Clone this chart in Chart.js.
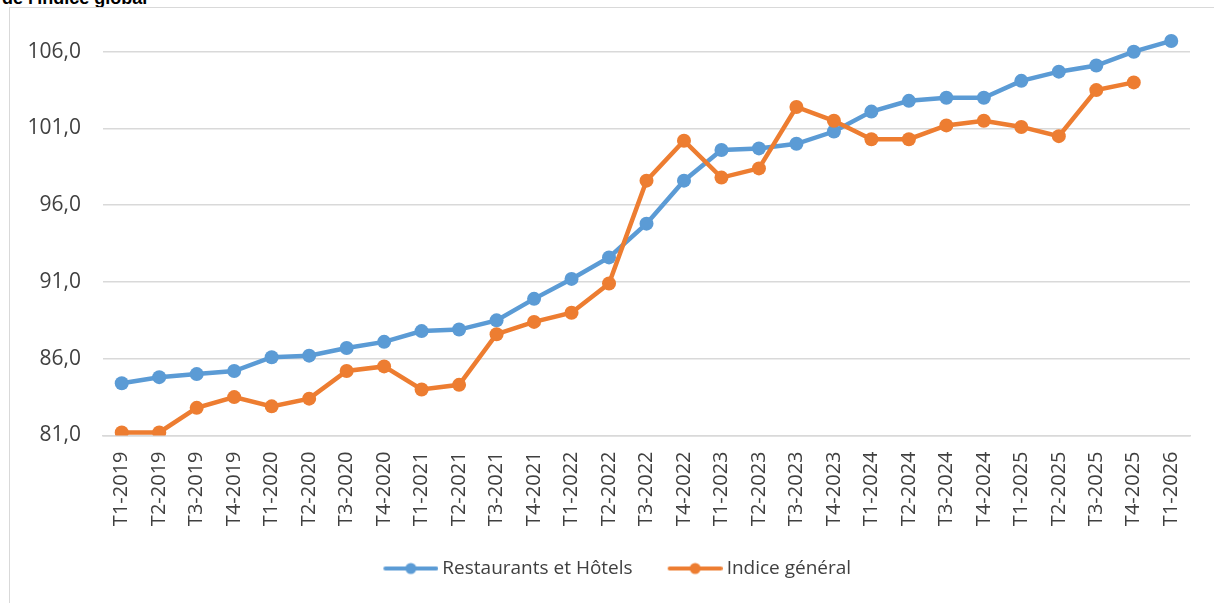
<!DOCTYPE html>
<html>
<head>
<meta charset="utf-8">
<script src="https://cdn.jsdelivr.net/npm/chart.js@4.4.0/dist/chart.umd.min.js"></script>
<style>
  body { margin: 0; background: #fff; width: 1214px; height: 603px; overflow: hidden; position: relative; }
  #title { position: absolute; left: 2px; top: -12px; font: bold 18px "Liberation Sans", Arial, sans-serif; color: #000; white-space: nowrap; }
  #frame { position: absolute; left: 9px; top: 7px; width: 1215px; height: 610px; border: 1px solid #d9d9d9; box-sizing: border-box; }
  #wrap { position: absolute; left: 0; top: 0; width: 1214px; height: 603px; }
</style>
</head>
<body>
<div id="title">de l'indice global</div>
<div id="frame"></div>
<div id="wrap"><canvas id="chart"></canvas></div>
<script>
// quarters T1-2019 .. T1-2026
const quarters = [
  'T1-2019', 'T2-2019', 'T3-2019', 'T4-2019',
  'T1-2020', 'T2-2020', 'T3-2020', 'T4-2020',
  'T1-2021', 'T2-2021', 'T3-2021', 'T4-2021',
  'T1-2022', 'T2-2022', 'T3-2022', 'T4-2022',
  'T1-2023', 'T2-2023', 'T3-2023', 'T4-2023',
  'T1-2024', 'T2-2024', 'T3-2024', 'T4-2024',
  'T1-2025', 'T2-2025', 'T3-2025', 'T4-2025',
  'T1-2026'
];

const restaurantsHotels = [
  84.4, 84.8, 85.0, 85.2, 86.1, 86.2, 86.7, 87.1, 87.8, 87.9,
  88.5, 89.9, 91.2, 92.6, 94.8, 97.6, 99.6, 99.7, 100.0, 100.8,
  102.1, 102.8, 103.0, 103.0, 104.1, 104.7, 105.1, 106.0, 106.7
];

const indiceGeneral = [
  81.2, 81.2, 82.8, 83.5, 82.9, 83.4, 85.2, 85.5, 84.0, 84.3,
  87.6, 88.4, 89.0, 90.9, 97.6, 100.2, 97.8, 98.4, 102.4, 101.5,
  100.3, 100.3, 101.2, 101.5, 101.1, 100.5, 103.5, 104.0, null
];

const yTicks = [81, 86, 91, 96, 101, 106];

const BLUE = '#5B9BD5';
const ORANGE = '#ED7D31';
const TEXT = '#404040';
const FONT = '"Open Sans", "Noto Sans", sans-serif';

// legend sample: line with a marker, drawn with a blank margin on the left
function legendIcon(color) {
  const c = document.createElement('canvas');
  c.width = 67; c.height = 14;
  const g = c.getContext('2d');
  g.strokeStyle = color;
  g.lineWidth = 4;
  g.lineCap = 'round';
  g.beginPath(); g.moveTo(14, 7); g.lineTo(65, 7); g.stroke();
  g.fillStyle = color;
  g.beginPath(); g.arc(39.5, 7, 5.5, 0, Math.PI * 2); g.fill();
  return c;
}
const icons = [legendIcon(BLUE), legendIcon(ORANGE)];

// nudge the legend row a bit to the right, like the original
const legendShift = {
  id: 'legendShift',
  afterLayout(chart) {
    chart.legend.left += 19;
    chart.legend.right += 19;
  }
};

new Chart(document.getElementById('chart'), {
  type: 'line',
  data: {
    labels: quarters,
    datasets: [
      {
        label: 'Restaurants et Hôtels',
        data: restaurantsHotels,
        borderColor: BLUE,
        backgroundColor: BLUE,
        borderWidth: 4.5,
        pointRadius: 7,
        pointBorderWidth: 0,
        order: 1
      },
      {
        label: 'Indice général',
        data: indiceGeneral,
        borderColor: ORANGE,
        backgroundColor: ORANGE,
        borderWidth: 4.5,
        pointRadius: 7,
        pointBorderWidth: 0,
        order: 0
      }
    ]
  },
  plugins: [legendShift],
  options: {
    responsive: true,
    maintainAspectRatio: false,
    animation: false,
    layout: { padding: { top: 21, right: 24, left: 0, bottom: 15 } },
    plugins: {
      tooltip: { enabled: false },
      legend: {
        position: 'bottom',
        labels: {
          usePointStyle: true,
          pointStyleWidth: 56,
          padding: 28.5,
          color: TEXT,
          font: { family: FONT, size: 19 },
          sort: (a, b) => a.datasetIndex - b.datasetIndex,
          generateLabels: chart =>
            Chart.defaults.plugins.legend.labels.generateLabels(chart)
              .map(l => ({ ...l, pointStyle: icons[l.datasetIndex] }))
        }
      }
    },
    scales: {
      x: {
        offset: true,
        grid: { display: false, drawTicks: false },
        border: { color: '#d9d9d9', width: 1.5 },
        ticks: {
          color: TEXT,
          font: { family: FONT, size: 20 },
          minRotation: 90,
          maxRotation: 90,
          autoSkip: false,
          padding: 16
        },
        afterFit: s => { s.height = 95; }
      },
      y: {
        min: 81,
        max: 108,
        grid: { color: '#d9d9d9', lineWidth: 1.5, drawTicks: true, tickLength: 20, tickColor: 'rgba(0,0,0,0)' },
        border: { display: false },
        ticks: {
          color: TEXT,
          font: { family: FONT, size: 21 },
          padding: 2,
          callback: v => v.toFixed(1).replace('.', ',')
        },
        afterBuildTicks: s => { s.ticks = yTicks.map(v => ({ value: v })); },
        afterFit: s => { s.width = 103; }
      }
    }
  }
});
</script>
</body>
</html>
